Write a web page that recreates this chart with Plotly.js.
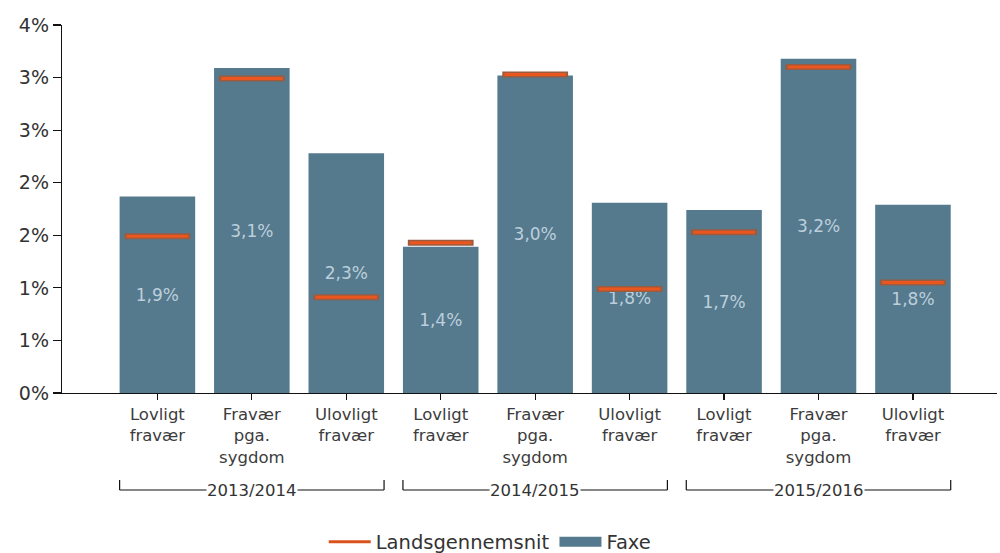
<!DOCTYPE html>
<html>
<head>
<meta charset="utf-8">
<script src="https://cdn.plot.ly/plotly-3.0.1.min.js"></script>
<style>
html,body{margin:0;padding:0;background:#fff;}
#chart{width:1000px;height:553px;}
</style>
</head>
<body>
<div id="chart"></div>
<script>
// ---- data ----
const years = ['2013/2014', '2014/2015', '2015/2016'];
const kinds = ['Lovligt<br>fravær', 'Fravær<br>pga.<br>sygdom', 'Ulovligt<br>fravær'];
const faxe = [1.87, 3.09, 2.28, 1.39, 3.02, 1.81, 1.74, 3.18, 1.79];
const lands = [1.49, 2.99, 0.91, 1.43, 3.03, 0.99, 1.53, 3.10, 1.05];
const yTickVals = [0, 0.5, 1, 1.5, 2, 2.5, 3, 3.5];
const yTickText = ['0%', '1%', '1%', '2%', '2%', '3%', '3%', '4%'];
const seriesNames = ['Landsgennemsnit', 'Faxe'];

// ---- derived ----
const catLabels = [];
years.forEach(() => kinds.forEach(k => catLabels.push(k)));
const xIdx = catLabels.map((_, i) => i);

const barColor = '#557a8e';
const orange = '#ea561d';
const FONT = 'DejaVu Sans, Verdana, sans-serif';

const traces = [
  {
    type: 'bar', x: xIdx, y: faxe, name: seriesNames[1], showlegend: false,
    marker: {color: barColor},
    texttemplate: '%{y:.1f}%', textposition: 'inside', insidetextanchor: 'middle',
    textfont: {family: FONT, size: 17, color: '#bccfdb'},
    hoverinfo: 'none'
  },
  {
    type: 'scatter', mode: 'markers', x: xIdx, y: lands, showlegend: false,
    marker: {symbol: 'line-ew', size: 47, line: {width: 6, color: '#9b5b40'}},
    hoverinfo: 'none'
  },
  {
    type: 'scatter', mode: 'markers', x: xIdx, y: lands, name: seriesNames[0], showlegend: false,
    marker: {symbol: 'line-ew', size: 44, line: {width: 3, color: orange}},
    hoverinfo: 'none'
  },
  // legend entries
  {type: 'scatter', mode: 'lines', x: [null], y: [null], name: seriesNames[0],
   line: {color: '#d9531c', width: 3}, hoverinfo: 'none'},
  {type: 'scatter', mode: 'lines', x: [null], y: [null], name: seriesNames[1],
   line: {color: barColor, width: 13}, hoverinfo: 'none'}
];

const shapes = [];
const annotations = [];
const yLine = -0.2636, yTick = -0.2364;
years.forEach((yr, g) => {
  const a = g * kinds.length - 0.4;
  const b = g * kinds.length + kinds.length - 1 + 0.4;
  const ln = {color: '#111', width: 1.2};
  shapes.push({type: 'line', xref: 'x', yref: 'paper', x0: a, x1: b, y0: yLine, y1: yLine, line: ln});
  shapes.push({type: 'line', xref: 'x', yref: 'paper', x0: a, x1: a, y0: yLine, y1: yTick, line: ln});
  shapes.push({type: 'line', xref: 'x', yref: 'paper', x0: b, x1: b, y0: yLine, y1: yTick, line: ln});
  annotations.push({
    xref: 'x', yref: 'paper', x: g * kinds.length + (kinds.length - 1) / 2, y: yLine,
    text: yr, showarrow: false, yanchor: 'middle', xanchor: 'center',
    bgcolor: '#fff', borderpad: 0,
    font: {family: FONT, size: 16.5, color: '#333'}
  });
});

const layout = {
  width: 1000, height: 553,
  margin: {l: 62, r: 3, t: 25, b: 160, autoexpand: false},
  paper_bgcolor: '#fff', plot_bgcolor: '#fff',
  separators: ',.',
  bargap: 0.2,
  showlegend: true,
  legend: {orientation: 'h', x: 0.458, xanchor: 'center', y: -0.405, yanchor: 'middle',
           itemwidth: 42, font: {family: FONT, size: 19.5, color: '#333'}, traceorder: 'normal'},
  xaxis: {
    type: 'linear', range: [-1.01, 8.89],
    tickvals: xIdx, ticktext: catLabels,
    ticks: 'outside', ticklen: 6, tickcolor: '#111', tickwidth: 1.2,
    showline: true, linecolor: '#111', linewidth: 1.2,
    showgrid: false, zeroline: false,
    tickfont: {family: FONT, size: 16.5, color: '#3c3c3c'}
  },
  yaxis: {
    range: [0, 3.5], tickvals: yTickVals, ticktext: yTickText,
    ticks: 'outside', ticklen: 8, tickcolor: '#111', tickwidth: 1.2,
    showline: true, linecolor: '#111', linewidth: 1.2,
    showgrid: false, zeroline: false,
    tickfont: {family: FONT, size: 19, color: '#333'}
  },
  shapes: shapes,
  annotations: annotations
};

Plotly.newPlot('chart', traces, layout, {staticPlot: true, displayModeBar: false});
</script>
</body>
</html>
